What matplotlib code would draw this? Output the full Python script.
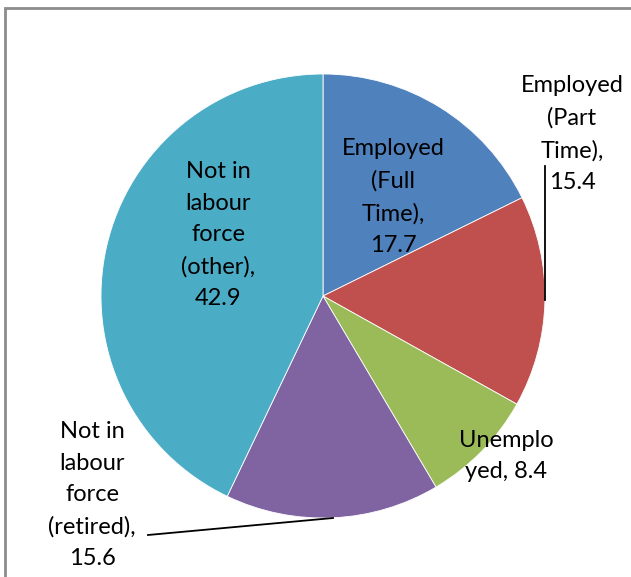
import matplotlib.pyplot as plt
from matplotlib.patches import Rectangle

# slices, clockwise from 12 o'clock
labels = ["Employed\n(Full\nTime),\n17.7",
          "Employed\n(Part\nTime),\n15.4",
          "Unemplo\nyed, 8.4",
          "Not in\nlabour\nforce\n(retired),\n15.6",
          "Not in\nlabour\nforce\n(other),\n42.9"]
values = [17.7, 15.4, 8.4, 15.6, 42.9]
colors = ["#4F81BD", "#C0504D", "#9BBB59", "#8064A2", "#4BACC6"]

# label centres in pixel coords (top-left origin)
label_pos = [(393, 197), (572, 134), (506, 456), (92, 495), (218, 235)]

W, H = 631, 577
fig = plt.figure(figsize=(W / 100, H / 100), dpi=100)
ax = fig.add_axes([0, 0, 1, 1])

ax.pie(values, colors=colors, startangle=90, counterclock=False,
       center=(323, H - 296), radius=222, frame=True,
       wedgeprops=dict(edgecolor="white", linewidth=0.6))

for txt, (px, py) in zip(labels, label_pos):
    ax.text(px, H - py, txt, ha="center", va="center", fontsize=17,
            family="Lato", linespacing=1.62, color="black")

# leader lines
ax.plot([545, 545], [H - 166, H - 300], color="black", lw=1.3)
ax.plot([333, 148], [H - 518, H - 535], color="black", lw=1.3)

# chart-area frame
ax.add_patch(Rectangle((5, -10), W + 20, H - 8 + 10, fill=False,
                       edgecolor="#8c8c8c", lw=2))

ax.set_xlim(0, W)
ax.set_ylim(0, H)
ax.axis("off")

fig.savefig("out.png", dpi=100)
